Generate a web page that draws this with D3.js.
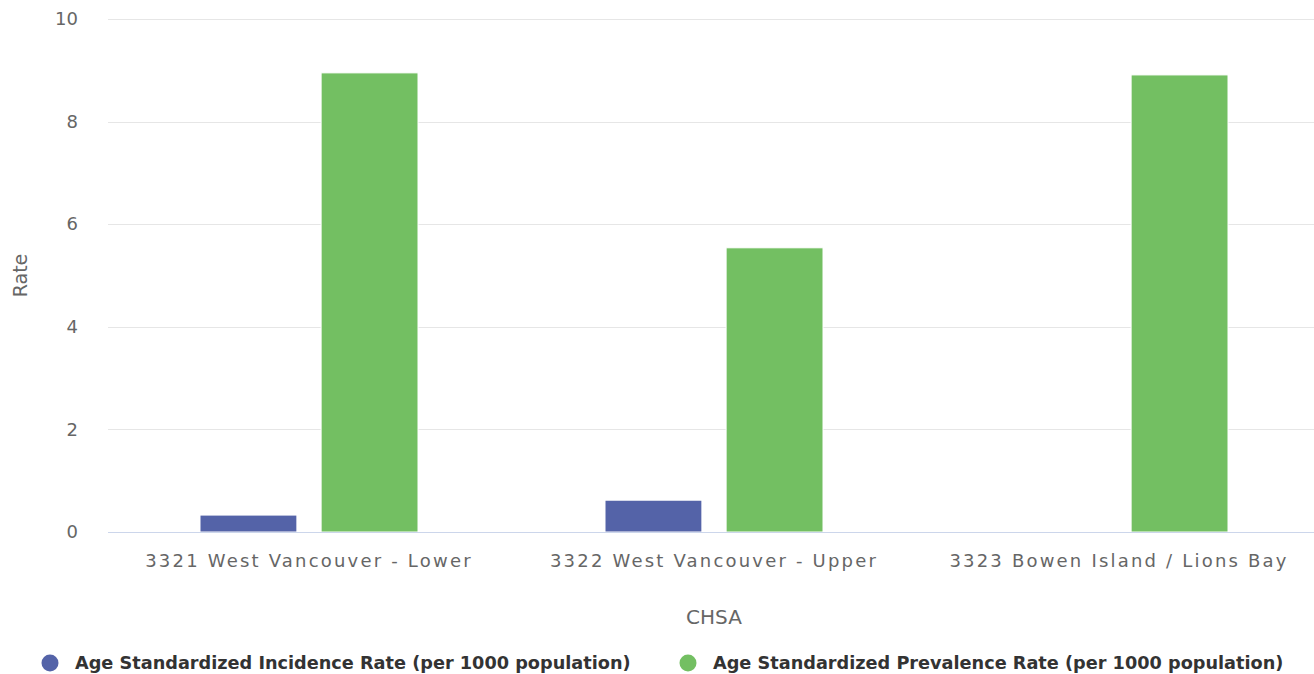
<!DOCTYPE html>
<html lang="en">
<head>
<meta charset="utf-8">
<title>CHSA rates</title>
<script src="https://cdn.jsdelivr.net/npm/d3@7"></script>
<style>
  body { margin: 0; background: #fff; }
  svg { font-family: "DejaVu Sans", sans-serif; }
</style>
</head>
<body>
<script>
// data
var categories = ["3321 West Vancouver - Lower", "3322 West Vancouver - Upper", "3323 Bowen Island / Lions Bay"];
var seriesNames = ["Age Standardized Incidence Rate (per 1000 population)", "Age Standardized Prevalence Rate (per 1000 population)"];
var incidence = [0.33, 0.62, null];
var prevalence = [8.95, 5.54, 8.91];
var yTicks = [0, 2, 4, 6, 8, 10];
var colors = ["#5463a8", "#73bf62"];

var w = 1314, h = 674;
var plotLeft = 108, plotRight = 1314, plotTop = 19, plotBottom = 532;

var svg = d3.select("body").append("svg")
  .attr("width", w)
  .attr("height", h);

// the plot runs a little past the right edge of the picture
var xScale = d3.scaleBand()
  .domain(categories)
  .range([106.5, 1321.5]);

var groupPad = 93.5;
var xInner = d3.scaleBand()
  .domain([0, 1])
  .range([groupPad, xScale.bandwidth() - groupPad])
  .paddingInner(0.2);

var yScale = d3.scaleLinear()
  .domain([0, 10])
  .range([plotBottom, plotTop]);

// grid
svg.append("g")
  .selectAll("line")
  .data(yTicks.filter(function(d){ return d > 0; }))
  .enter().append("line")
  .attr("x1", plotLeft).attr("x2", plotRight)
  .attr("y1", function(d){ return Math.round(yScale(d)) + 0.5; })
  .attr("y2", function(d){ return Math.round(yScale(d)) + 0.5; })
  .attr("stroke", "#e6e6e6");

// y axis
var yAxis = d3.axisLeft(yScale)
  .tickValues(yTicks)
  .tickSize(0)
  .tickPadding(30);
var gy = svg.append("g")
  .attr("transform", "translate(" + plotLeft + ",0)")
  .call(yAxis)
  .attr("font-family", "DejaVu Sans, sans-serif")
  .attr("font-size", 18);
gy.select(".domain").remove();
gy.selectAll("text").attr("fill", "#666");

// bars
var rows = categories.map(function(c, i){ return [incidence[i], prevalence[i]]; });
svg.append("g")
  .selectAll("g")
  .data(rows)
  .enter().append("g")
  .attr("transform", function(d, i){ return "translate(" + xScale(categories[i]) + ",0)"; })
  .selectAll("rect")
  .data(function(d){ return d.map(function(v, j){ return {v: v, j: j}; }).filter(function(p){ return p.v != null; }); })
  .enter().append("rect")
  .attr("x", function(d){ return xInner(d.j); })
  .attr("width", xInner.bandwidth())
  .attr("y", function(d){ return yScale(d.v); })
  .attr("height", function(d){ return yScale(0) - yScale(d.v); })
  .attr("fill", function(d){ return colors[d.j]; })
  .attr("stroke", "#fff")
  .attr("stroke-width", 1);

// x axis
var xAxis = d3.axisBottom(xScale).tickSize(0).tickPadding(22);
var gx = svg.append("g")
  .attr("transform", "translate(0," + plotBottom + ")")
  .call(xAxis)
  .attr("font-family", "DejaVu Sans, sans-serif")
  .attr("font-size", 18);
gx.select(".domain").attr("stroke", "#ccd6eb").attr("d", "M" + plotLeft + ",0.5H" + plotRight);
gx.selectAll("text").attr("fill", "#666").style("letter-spacing", "2.2px");

// axis titles
svg.append("text")
  .attr("transform", "translate(27," + ((plotTop + plotBottom) / 2) + ") rotate(-90)")
  .attr("text-anchor", "middle")
  .attr("fill", "#666")
  .style("font-size", "19px")
  .text("Rate");

svg.append("text")
  .attr("x", xScale(categories[1]) + xScale.bandwidth() / 2)
  .attr("y", 624)
  .attr("text-anchor", "middle")
  .attr("fill", "#666")
  .style("font-size", "20px")
  .text("CHSA");

// legend
var legendX = [50, 688];
var lg = svg.append("g")
  .selectAll("g")
  .data(seriesNames)
  .enter().append("g")
  .attr("transform", function(d, i){ return "translate(" + legendX[i] + ",663)"; });
lg.append("circle").attr("r", 8.5).attr("fill", function(d, i){ return colors[i]; });
lg.append("text")
  .attr("x", 25)
  .attr("dy", "0.35em")
  .attr("fill", "#333")
  .style("font-size", "17.7px")
  .style("font-weight", "bold")
  .text(function(d){ return d; });
</script>
</body>
</html>
